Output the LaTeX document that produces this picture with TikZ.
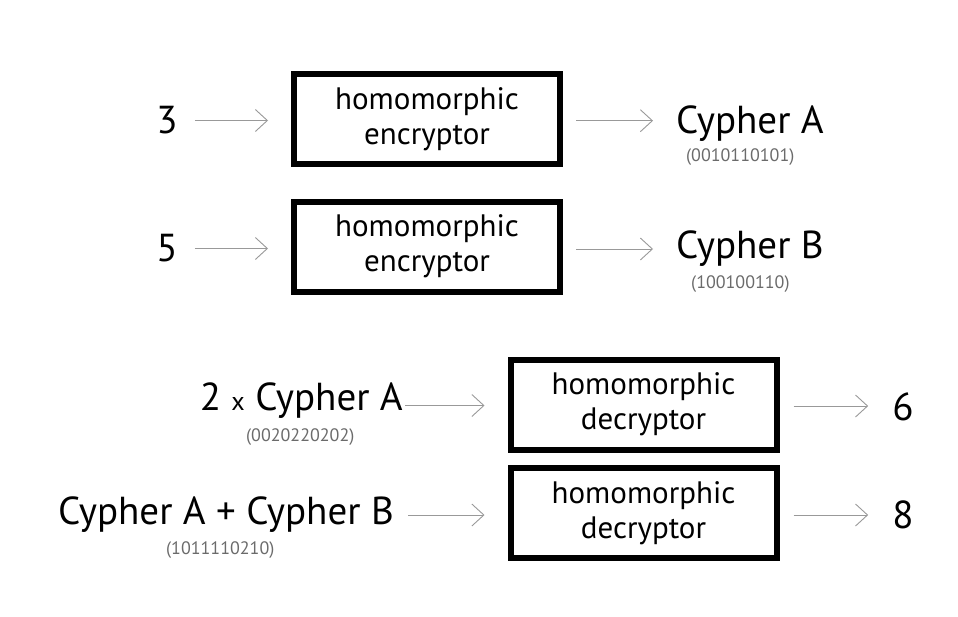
\documentclass[tikz,border=0pt]{standalone}
\usepackage{fontspec}
\setmainfont{PT Sans}
\usetikzlibrary{arrows.meta,calc}
\begin{document}
\begin{tikzpicture}[x=1pt,y=-1pt,
 box/.style={draw,line width=6pt,minimum width=266pt,minimum height=90pt,inner sep=0pt,align=center,font=\fontsize{31}{35}\selectfont},
 big/.style={inner sep=0pt,font=\fontsize{39}{42}\selectfont},
 bits/.style={inner sep=0pt,text=black!58,font=\fontsize{18}{20}\selectfont},
 arr/.style={draw=black!40,line width=0.9pt,-{Straight Barb[length=12pt,width=22pt]}}]
\fill[white] (0,0) rectangle (958,616);
\useasboundingbox (0,0) rectangle (958,616);

\node[box] (e1) at (427,119) {homomorphic\\encryptor};
\node[box] (e2) at (427,246.5) {homomorphic\\encryptor};
\node[box] (d1) at (643.5,404.5) {homomorphic\\decryptor};
\node[box] (d2) at (643.5,513) {homomorphic\\decryptor};

\node[big] (n3) at (167,120.5) {3};
\node[big] (n5) at (167,248.5) {5};
\node[big,anchor=base west] (cA) at (676,133) {Cypher A};
\node[big,anchor=base west] (cB) at (676,258) {Cypher B};
\node[bits,anchor=west] (bA) at (686,157) {(0010110101)};
\node[bits,anchor=west] (bB) at (691,284) {(100100110)};
\node[big,anchor=base east] (m2) at (403,410) {2 {\fontsize{26}{28}\selectfont x} Cypher A};
\node[bits,anchor=west] (b2) at (246,437) {(0020220202)};
\node[big,anchor=base east] (sAB) at (394,524) {Cypher A + Cypher B};
\node[bits,anchor=west] (bAB) at (166,550) {(1011110210)};
\node[big] (r6) at (903,407) {6};
\node[big] (r8) at (903,515) {8};

\draw[arr] ($(n3.east)+(17,0)$) -- ($(n3.east -| e1.west)+(-23,0)$);
\draw[arr] ($(n5.east)+(17,0)$) -- ($(n5.east -| e2.west)+(-23,0)$);
\draw[arr] ($(e1.east)+(13,1.7)$) -- ($(e1.east -| cA.west)+(-23,1.7)$);
\draw[arr] ($(e2.east)+(13,2.5)$) -- ($(e2.east -| cB.west)+(-23,2.5)$);
\draw[arr] ($(m2.east |- d1.west)+(2,1)$) -- ($(d1.west)+(-23,1)$);
\draw[arr] ($(sAB.east |- d2.west)+(14,2)$) -- ($(d2.west)+(-23,2)$);
\draw[arr] ($(d1.east)+(14,1.5)$) -- ($(d1.east -| r6.west)+(-24,1.5)$);
\draw[arr] ($(d2.east)+(14,2)$) -- ($(d2.east -| r8.west)+(-24,2)$);
\end{tikzpicture}
\end{document}
